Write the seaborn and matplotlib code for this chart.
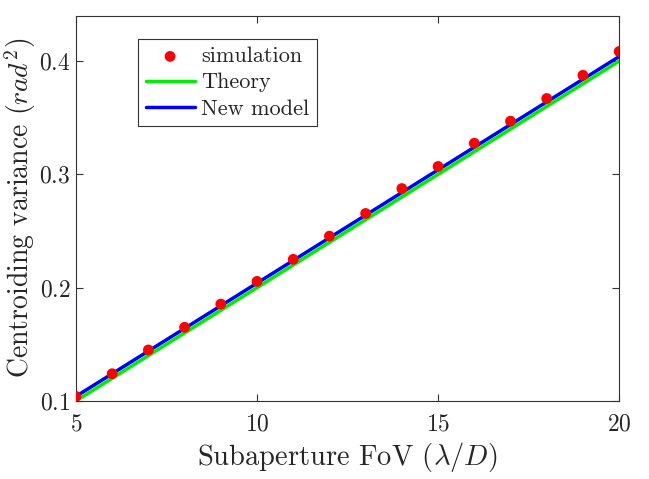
import numpy as np
import pandas as pd
import matplotlib
matplotlib.use("Agg")
import matplotlib.pyplot as plt
import seaborn as sns

# valores
fov = [5, 6, 7, 8, 9, 10, 11, 12, 13, 14, 15, 16, 17, 18, 19, 20]
simulation = [0.1040, 0.1240, 0.1450, 0.1650, 0.1855, 0.2055, 0.2250, 0.2455,
              0.2655, 0.2875, 0.3070, 0.3275, 0.3470, 0.3670, 0.3875, 0.4085]
theory = [0.100, 0.120, 0.140, 0.160, 0.180, 0.200, 0.220, 0.240,
          0.260, 0.280, 0.300, 0.320, 0.340, 0.360, 0.380, 0.400]
new_model = [0.104, 0.124, 0.144, 0.164, 0.184, 0.204, 0.224, 0.244,
             0.264, 0.284, 0.304, 0.324, 0.344, 0.364, 0.384, 0.404]

df = pd.DataFrame({'fov': fov, 'simulation': simulation,
                   'theory': theory, 'new_model': new_model})

sns.set_style("ticks")
plt.rcParams['font.family'] = 'serif'
plt.rcParams['font.serif'] = ['cmr10']
plt.rcParams['mathtext.fontset'] = 'cm'
plt.rcParams['axes.formatter.use_mathtext'] = True

fig = plt.figure(figsize=(6.49, 4.79), dpi=100)
ax = fig.add_axes([0.117, 0.163, 0.837, 0.804])

sns.scatterplot(data=df, x='fov', y='simulation', ax=ax, color='#ff0000',
                s=60, edgecolor='none', label='simulation', zorder=3)
sns.lineplot(data=df, x='fov', y='theory', ax=ax, color='#00ee00',
             linewidth=2.5, label='Theory')
sns.lineplot(data=df, x='fov', y='new_model', ax=ax, color='#0000ff',
             linewidth=2.5, label='New model')

ax.set_xlim(5, 20)
ax.set_ylim(0.1, 0.44)
ax.set_xticks([5, 10, 15, 20])
ax.set_yticks([0.1, 0.2, 0.3, 0.4])
ax.set_xlabel(r'Subaperture FoV ($\lambda/D$)', fontsize=20.5, labelpad=3)
ax.set_ylabel(r'Centroiding variance ($rad^2$)', fontsize=20, labelpad=1)
ax.tick_params(direction='in', top=True, right=True, labelsize=17, length=5,
               color='#333333')
ax.tick_params(axis='x', pad=9)
ax.tick_params(axis='y', pad=4)
for s in ax.spines.values():
    s.set_color('#333333')
    s.set_linewidth(0.8)

leg = ax.legend(loc='upper left', bbox_to_anchor=(0.114, 0.94), borderaxespad=0,
                fontsize=16, frameon=True, fancybox=False, framealpha=1,
                handlelength=2.2, handletextpad=0.3, borderpad=0.35,
                labelspacing=0.3)
leg.get_frame().set_edgecolor('#333333')
leg.get_frame().set_linewidth(0.8)

plt.savefig('out.png', dpi=100)
plt.close()
